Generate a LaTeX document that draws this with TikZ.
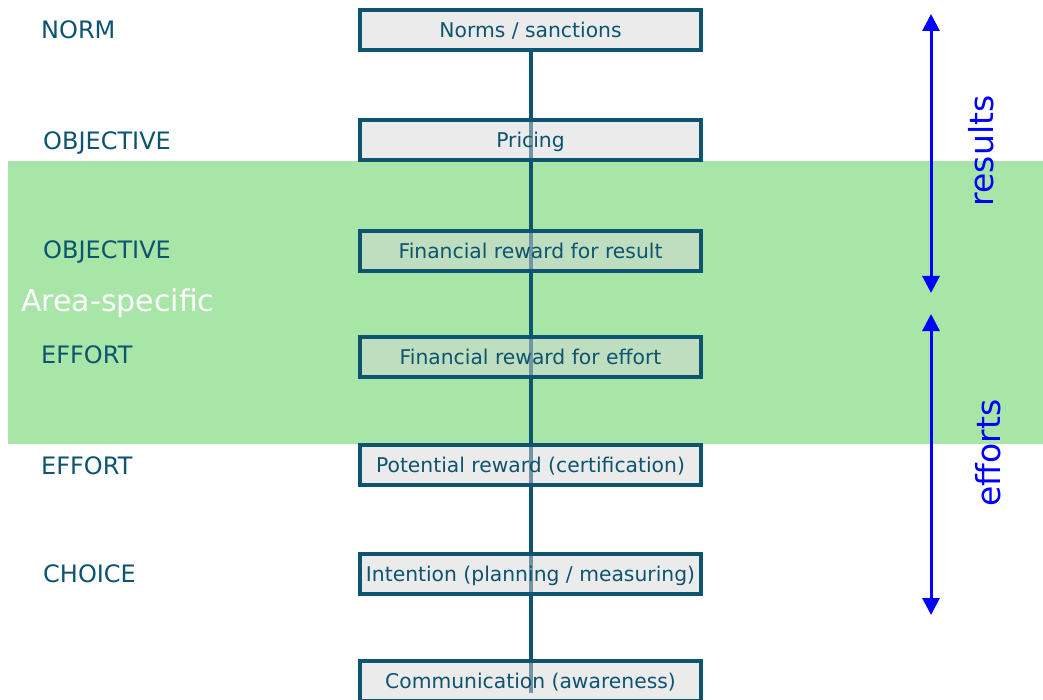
\documentclass[tikz,border=0pt]{standalone}
\usepackage{fontspec}
\setmainfont{DejaVu Sans}
\usetikzlibrary{arrows.meta}
\definecolor{ink}{RGB}{12,84,112}
\definecolor{band}{RGB}{168,230,168}
\definecolor{boxfill}{RGB}{215,215,215}
\definecolor{arrowblue}{RGB}{0,0,255}
\tikzset{
  x=1pt, y=-1pt,
  stagebox/.style={draw=ink, line width=3.3pt, fill=boxfill, fill opacity=0.5,
    draw opacity=1, text opacity=1, text=ink, minimum width=341pt, minimum height=40pt,
    inner sep=0pt, font=\fontsize{20.3}{24}\selectfont, text height=14.8pt, text depth=0pt},
  levellabel/.style={anchor=west, inner sep=0pt, text=ink,
    font=\fontsize{24}{28}\selectfont, text height=17.5pt, text depth=0pt},
  sidelabel/.style={anchor=base, rotate=90, inner sep=0pt, text=arrowblue,
    font=\fontsize{33}{40}\selectfont},
  span/.style={draw=arrowblue, line width=3pt,
    {Triangle[width=17pt,length=17pt]}-{Triangle[width=17pt,length=17pt]}},
  stem/.style={draw=ink, line width=3.3pt}
}
\begin{document}
\begin{tikzpicture}
\useasboundingbox (0,0) rectangle (1043,700);

% shaded band for the area-specific instruments
\fill[band] (8,161) rectangle (1043,444);
\node[anchor=west, inner sep=0pt, text=white, font=\fontsize{30}{36}\selectfont,
  text height=21.9pt, text depth=0pt] (area) at (21,301) {Area-specific};

% level labels on the left
\node[levellabel] (l1) at (41,30)  {NORM};
\node[levellabel] (l2) at (43,141) {OBJECTIVE};
\node[levellabel] (l3) at (43,250) {OBJECTIVE};
\node[levellabel] (l4) at (41,355) {EFFORT};
\node[levellabel] (l5) at (41,466) {EFFORT};
\node[levellabel] (l6) at (43,574) {CHOICE};

% central spine behind the boxes
\coordinate (stemtop) at (531,50);
\coordinate (stemend) at (531,693);
\draw[stem] (stemtop) -- (stemend);

% instrument boxes
\node[stagebox] (norms)  at (530.5,30)  {Norms / sanctions};
\node[stagebox] (price)  at (530.5,140) {Pricing};
\node[stagebox] (result) at (530.5,251) {Financial reward for result};
\node[stagebox] (effort) at (530.5,357) {Financial reward for effort};
\node[stagebox] (cert)   at (530.5,465) {Potential reward (certification)};
\node[stagebox] (intent) at (530.5,574) {Intention (planning / measuring)};
\node[stagebox] (comm)   at (530.5,681) {Communication (awareness)};

% ranges on the right
\coordinate (r1) at (931,14);
\coordinate (r2) at (931,293);
\coordinate (e1) at (931,314);
\coordinate (e2) at (931,615);
\draw[span] (r1) -- (r2);
\draw[span] (e1) -- (e2);
\node[sidelabel] (results) at (993,151) {results};
\node[sidelabel] (efforts) at (1000,453) {efforts};
\end{tikzpicture}
\end{document}
